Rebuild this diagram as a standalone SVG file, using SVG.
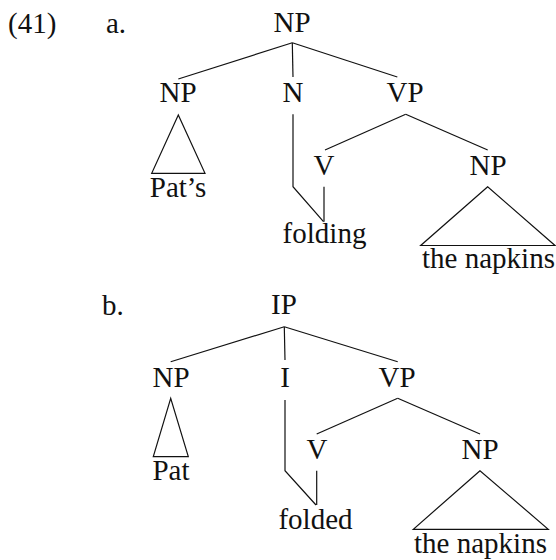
<svg xmlns="http://www.w3.org/2000/svg" width="556" height="560" viewBox="0 0 556 560">
  <style>
    text { font-family: "Liberation Serif", "DejaVu Serif", serif; font-size: 29px; fill: #111; }
    .c { text-anchor: middle; }
    .edge { fill: none; stroke: #111; stroke-width: 1.2; stroke-linejoin: miter; }
  </style>
  <rect width="556" height="560" fill="#fff"/>

  <!-- example labels -->
  <text id="exnum" x="8" y="33">(41)</text>
  <text id="label-a" x="106" y="33">a.</text>
  <text id="label-b" x="102" y="315">b.</text>

  <!-- tree (a) nodes -->
  <g id="a-root"><text class="c" x="292" y="32">NP</text></g>
  <g id="a-np-poss"><text class="c" x="178" y="102">NP</text></g>
  <g id="a-n"><text class="c" x="293" y="102">N</text></g>
  <g id="a-vp"><text class="c" x="405" y="102">VP</text></g>
  <g id="a-v"><text class="c" x="324" y="175">V</text></g>
  <g id="a-np-obj"><text class="c" x="488" y="175">NP</text></g>
  <g id="a-pats"><text class="c" x="178" y="197">Pat’s</text></g>
  <g id="a-folding"><text class="c" x="324.5" y="243">folding</text></g>
  <g id="a-napkins"><text class="c" x="488.5" y="268">the napkins</text></g>

  <!-- tree (b) nodes -->
  <g id="b-root"><text class="c" x="284" y="314">IP</text></g>
  <g id="b-np-subj"><text class="c" x="171" y="387">NP</text></g>
  <g id="b-i"><text class="c" x="285" y="387">I</text></g>
  <g id="b-vp"><text class="c" x="397" y="387">VP</text></g>
  <g id="b-v"><text class="c" x="317" y="459">V</text></g>
  <g id="b-np-obj"><text class="c" x="480" y="459">NP</text></g>
  <g id="b-pat"><text class="c" x="171" y="480">Pat</text></g>
  <g id="b-folded"><text class="c" x="315.5" y="529">folded</text></g>
  <g id="b-napkins"><text class="c" x="480.5" y="553">the napkins</text></g>

  <!-- branches -->
  <g id="connectors" class="edge">
    <!-- tree (a) -->
    <path class="edge" d="M292.3 42.7 L178.3 79"/>
    <path class="edge" d="M292.3 42.7 L293 77"/>
    <path class="edge" d="M292.3 42.7 L397.3 77"/>
    <path class="edge" d="M405.7 114.3 L325 150"/>
    <path class="edge" d="M405.7 114.3 L487.7 150"/>
    <path class="edge" d="M293 114.3 L293 186.7 L323.5 221.7"/>
    <path class="edge" d="M324 186.7 L324 221.7"/>
    <path class="edge" d="M178.3 115 L151.7 173.3 L205 173.3 Z"/>
    <path class="edge" d="M487.7 186.7 L420.7 245.5 L555 245.5 Z"/>
    <!-- tree (b) -->
    <path class="edge" d="M284.3 326.7 L170.7 361.7"/>
    <path class="edge" d="M284.3 326.7 L285 360"/>
    <path class="edge" d="M284.3 326.7 L397.7 361.7"/>
    <path class="edge" d="M397.7 398.3 L316.7 434"/>
    <path class="edge" d="M397.7 398.3 L480 434"/>
    <path class="edge" d="M285 400 L285 470.7 L316 505"/>
    <path class="edge" d="M316.7 470.7 L316.7 505"/>
    <path class="edge" d="M170.7 398.3 L153.3 456.7 L188.3 456.7 Z"/>
    <path class="edge" d="M480 470.7 L413.3 529.3 L548.3 529.3 Z"/>
  </g>
</svg>
